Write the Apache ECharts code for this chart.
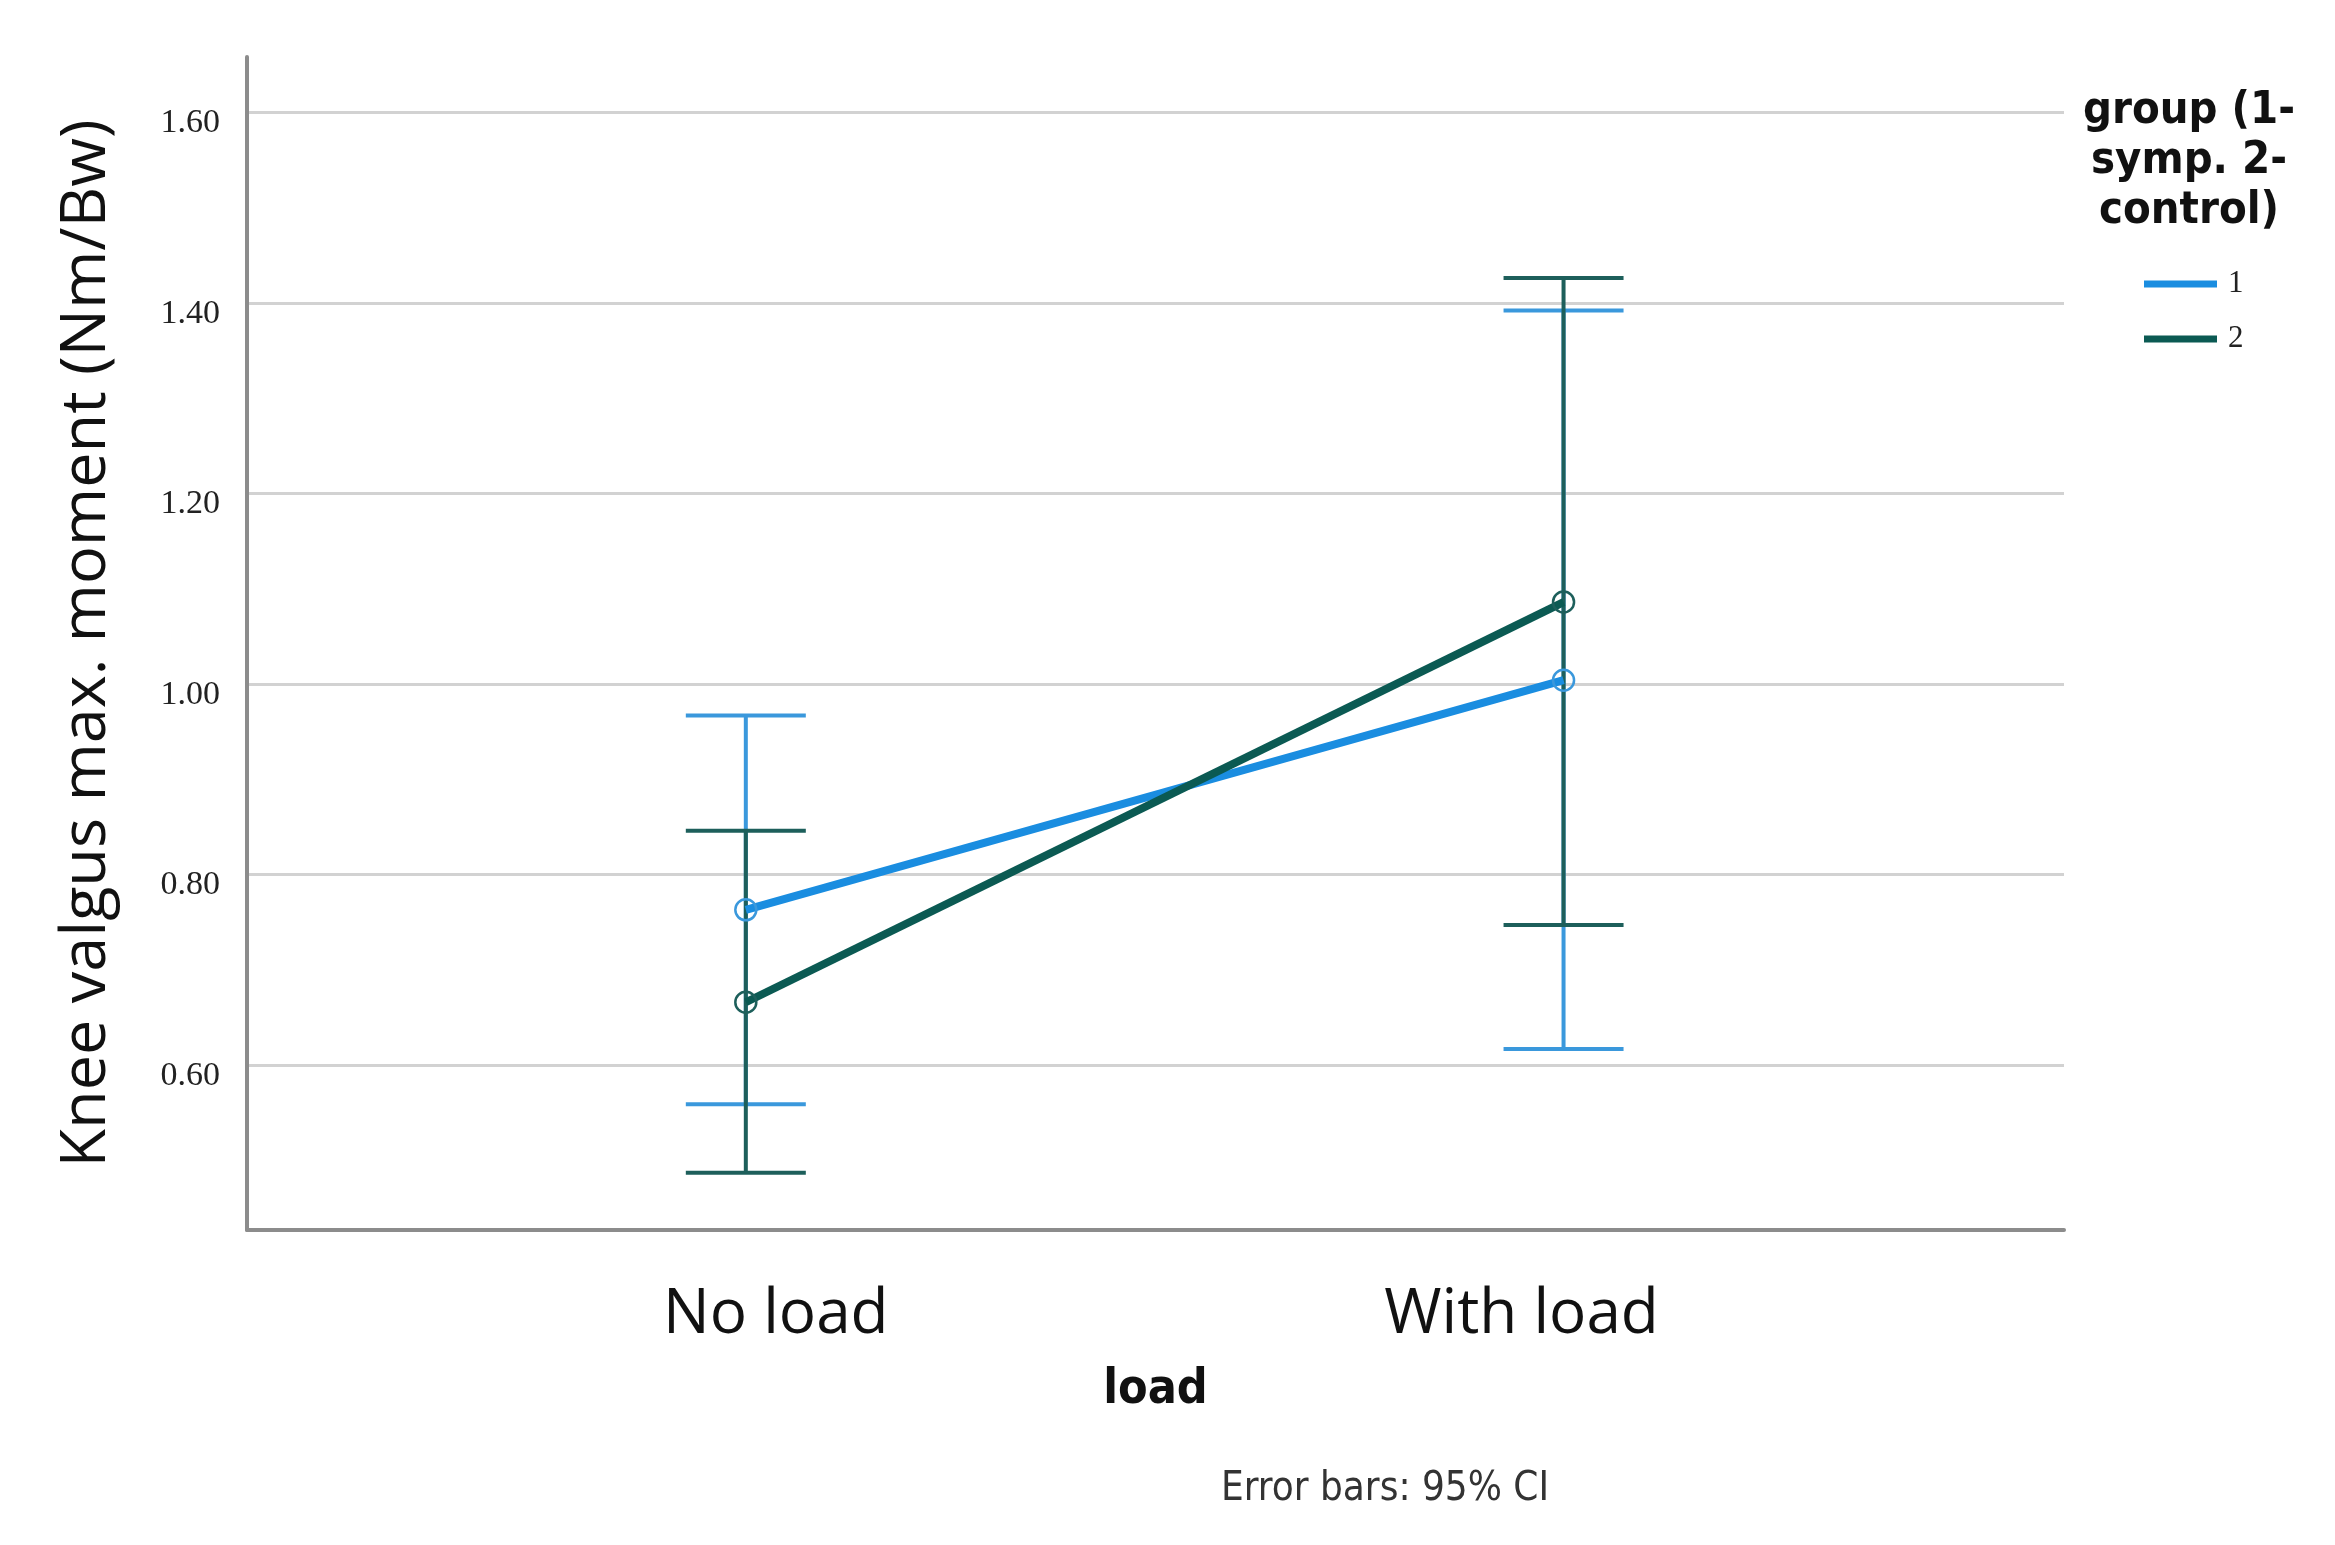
<!DOCTYPE html>
<html>
<head>
<meta charset="utf-8">
<script src="https://cdn.jsdelivr.net/npm/echarts@6/dist/echarts.min.js"></script>
<style>
html,body{margin:0;padding:0;background:#fff;}
#chart{width:2335px;height:1545px;}
</style>
</head>
<body>
<div id="chart"></div>
<script>
// ---- data ----
const categories = ['No load', 'With load'];
const categoryX = [0, 1];
const groupNames = ['1', '2'];
const meanG1 = [0.763, 1.004];
const lowG1 = [0.559, 0.617];
const highG1 = [0.967, 1.392];
const meanG2 = [0.666, 1.086];
const lowG2 = [0.487, 0.747];
const highG2 = [0.846, 1.426];
const yTickLabels = [0.60, 0.80, 1.00, 1.20, 1.40, 1.60];

const blueLine = '#1a8de0';
const tealLine = '#0b5a53';
const blueBar = '#3a98dc';
const tealBar = '#1d5f5b';

function pts(means) { return categoryX.map((x, i) => [x, means[i]]); }
function bars(lo, hi) { return categoryX.map((x, i) => [x, lo[i], hi[i]]); }

function errRender(color) {
  return function (params, api) {
    const x = api.value(0), lo = api.value(1), hi = api.value(2);
    const a = api.coord([x, lo]);
    const b = api.coord([x, hi]);
    const hw = 60;
    const st = { stroke: color, lineWidth: 4 };
    return {
      type: 'group',
      children: [
        { type: 'line', shape: { x1: a[0], y1: a[1], x2: b[0], y2: b[1] }, style: st },
        { type: 'line', shape: { x1: a[0] - hw, y1: a[1], x2: a[0] + hw, y2: a[1] }, style: st },
        { type: 'line', shape: { x1: b[0] - hw, y1: b[1], x2: b[0] + hw, y2: b[1] }, style: st }
      ]
    };
  };
}

const chart = echarts.init(document.getElementById('chart'));
const option = {
  backgroundColor: '#ffffff',
  animation: false,
  title: [
    {
      text: 'group (1-\nsymp. 2-\ncontrol)',
      left: 2189, top: 86, padding: 0, textAlign: 'center',
      textStyle: { fontFamily: 'DejaVu Sans Condensed, DejaVu Sans', fontWeight: 'bold', fontSize: 45, lineHeight: 50, color: '#111' }
    },
    {
      text: 'Error bars: 95% CI',
      left: 1221, top: 1470, padding: 0,
      textStyle: { fontFamily: 'DejaVu Sans Condensed, DejaVu Sans', fontWeight: 'normal', fontSize: 40, lineHeight: 40, color: '#333' }
    }
  ],
  legend: {
    orient: 'vertical',
    left: 2139, top: 262,
    itemWidth: 73, itemHeight: 7, itemGap: 21,
    icon: 'rect',
    data: [
      { name: groupNames[0], itemStyle: { color: blueLine, borderWidth: 0 } },
      { name: groupNames[1], itemStyle: { color: tealLine, borderWidth: 0 } }
    ],
    textStyle: { fontFamily: 'Liberation Serif', fontSize: 31, lineHeight: 30, color: '#222', padding: [4, 0, 0, 6] }
  },
  grid: { left: 247, right: 271, top: 57, bottom: 315 },
  xAxis: {
    type: 'value',
    min: -0.61, max: 1.612,
    axisLine: { show: true, onZero: false, lineStyle: { color: '#8c8c8c', width: 4 } },
    axisTick: { show: false },
    splitLine: { show: false },
    axisLabel: {
      customValues: categoryX,
      margin: 54,
      formatter: function (v) { return v === 0 ? '{a|' + categories[0] + '}' : '{b|' + categories[1] + '}'; },
      rich: {
        a: { fontFamily: 'Open Sans', fontSize: 62, color: '#111', padding: [0, 0, 0, 60] },
        b: { fontFamily: 'Open Sans', fontSize: 62, color: '#111', padding: [0, 84, 0, 0] }
      }
    },
    name: 'load',
    nameLocation: 'middle',
    nameGap: 137,
    nameTextStyle: { fontFamily: 'DejaVu Sans Condensed, DejaVu Sans', fontWeight: 'bold', fontSize: 48, color: '#111' }
  },
  yAxis: {
    type: 'value',
    min: 0.427, max: 1.658,
    axisLine: { show: true, onZero: false, lineStyle: { color: '#8c8c8c', width: 4 } },
    axisTick: { show: false },
    splitLine: { show: true, showMinLine: false, showMaxLine: false, lineStyle: { color: '#d2d2d2', width: 3 } },
    axisLabel: {
      customValues: yTickLabels,
      margin: 27,
      verticalAlign: 'top',
      lineHeight: 22,
      fontFamily: 'Liberation Serif', fontSize: 34, color: '#222',
      formatter: function (v) { return v.toFixed(2); }
    },
    name: 'Knee valgus max. moment (Nm/Bw)',
    nameLocation: 'middle',
    nameGap: 128,
    nameRotate: 90,
    nameTextStyle: { fontFamily: 'Open Sans', fontSize: 63, color: '#111' }
  },
  series: [
    { type: 'custom', name: 'err1', renderItem: errRender(blueBar), data: bars(lowG1, highG1), z: 2, silent: true },
    { type: 'custom', name: 'err2', renderItem: errRender(tealBar), data: bars(lowG2, highG2), z: 3, silent: true },
    {
      type: 'line', name: groupNames[0], data: pts(meanG1), z: 4,
      symbol: 'circle', symbolSize: 21,
      lineStyle: { color: blueLine, width: 8 },
      itemStyle: { color: 'rgba(255,255,255,0)', borderColor: blueBar, borderWidth: 2.5 }
    },
    {
      type: 'line', name: groupNames[1], data: pts(meanG2), z: 5,
      symbol: 'circle', symbolSize: 21,
      lineStyle: { color: tealLine, width: 8 },
      itemStyle: { color: 'rgba(255,255,255,0)', borderColor: tealBar, borderWidth: 2.5 }
    }
  ]
};
chart.setOption(option);
</script>
</body>
</html>
